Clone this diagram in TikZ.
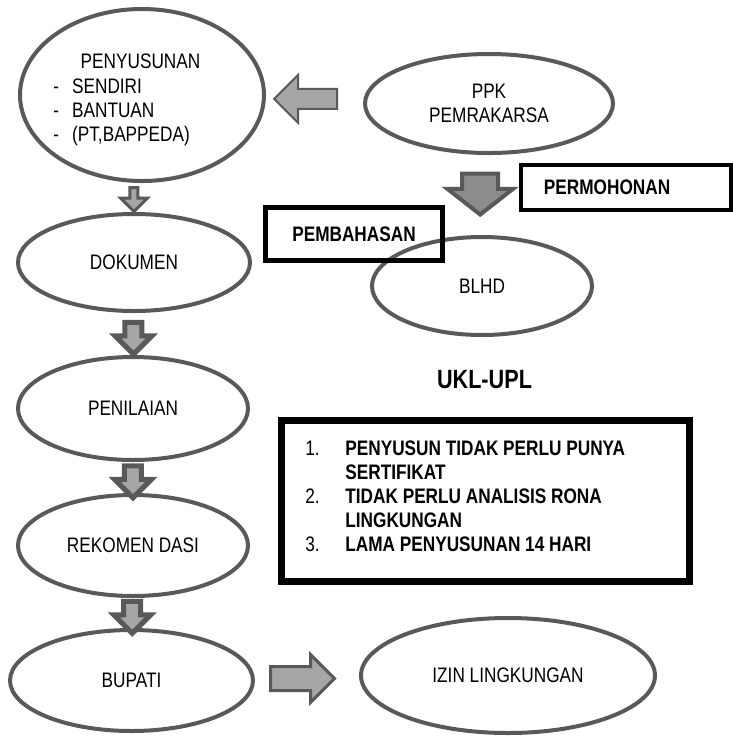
\documentclass[tikz,border=0pt]{standalone}
\usepackage{fontspec}
\setmainfont[FakeStretch=0.82]{Liberation Sans}
\usepackage{array}
\usetikzlibrary{shapes.geometric}
\usetikzlibrary{shapes.arrows}
\usetikzlibrary{positioning}
\usetikzlibrary{calc}

\definecolor{rim}{HTML}{595959}
\definecolor{lightfill}{HTML}{A6A6A6}
\definecolor{darkfill}{HTML}{8C8C8C}

\tikzset{
    every node/.style={font=\fontsize{10.5}{12.1}\selectfont, inner sep=0pt},
    oval/.style={ellipse, draw=rim, line width=2pt, align=center},
    frame/.style={rectangle, draw=black, font=\bfseries\fontsize{10.5}{12.1}\selectfont},
    blockarrow/.style 2 args={single arrow, draw=rim, fill=lightfill, line width=1pt, inner xsep=0pt, inner ysep=#1, single arrow head extend=#2},
    colarrow/.style={blockarrow={3pt}{5pt}, line width=2.5pt, rotate=270, minimum height=16pt}
}

\begin{document}
\begin{tikzpicture}[x=0.5pt, y=-0.5pt]
    \useasboundingbox (0, 0) rectangle (733, 736);

    \draw (142, 95) node[oval, minimum width=122pt, minimum height=86pt] (peny) {};
    \draw (140.5, 68) node[anchor=base] (penyhead) {PENYUSUNAN};
    \draw (53, 93) node[anchor=base west] (penylist) {\begin{tabular}[t]{@{}l@{\hspace{6.5pt}}l@{}}
        - & SENDIRI\\
        - & BANTUAN\\
        - & (PT,BAPPEDA)
    \end{tabular}};

    \draw (489, 103.5) node[oval, minimum width=124pt, minimum height=49.5pt] (ppk) {PPK\\PEMRAKARSA};
    \draw (134, 262.5) node[oval, minimum width=116pt, minimum height=48.5pt] (dok) {DOKUMEN};
    \draw (482, 286) node[oval, minimum width=110pt, minimum height=49pt] (blhd) {BLHD};
    \draw (133, 408.5) node[oval, minimum width=115pt, minimum height=51.5pt] (nil) {PENILAIAN};
    \draw (133, 545.5) node[oval, minimum width=115pt, minimum height=50.5pt] (rek) {REKOMEN DASI};
    \draw (131.5, 680.5) node[oval, minimum width=121.5pt, minimum height=50.5pt] (bup) {BUPATI};
    \draw (508, 675.5) node[oval, minimum width=147pt, minimum height=57.5pt] (izin) {IZIN LINGKUNGAN};

    \draw (354, 234) node[frame, line width=2.5pt, minimum width=88.5pt, minimum height=26.5pt] (pemb) {PEMBAHASAN};
    \draw (626, 187.5) node[frame, line width=2pt, minimum width=105pt, minimum height=22.5pt, text width=82pt, inner xsep=11.5pt, align=left] (perm) {PERMOHONAN};
    \draw (484.5, 380) node[font=\bfseries\fontsize{13.2}{15}\selectfont] (ukl) {UKL-UPL};

    \draw (485.5, 501) node[frame, line width=3.5pt, minimum width=204pt, minimum height=80.5pt] (ket) {};
    \draw (305, 455) node[anchor=base west] (kettext) {\begin{tabular}[t]{@{}p{20pt}@{}>{\bfseries}l@{}}
        1. & PENYUSUN TIDAK PERLU PUNYA\\
           & SERTIFIKAT\\
        2. & TIDAK PERLU ANALISIS RONA\\
           & LINGKUNGAN\\
        3. & LAMA PENYUSUNAN 14 HARI
    \end{tabular}};

    \draw ($(ppk.west)!0.54!(peny.east)$) node[blockarrow={4.5pt}{7pt}, rotate=180, minimum height=31.5pt] (topeny) {};
    \draw ($(ppk.south)!0.4!(blhd.north)$) node[blockarrow={8pt}{7.5pt}, xshift=-3pt, fill=darkfill, line width=2pt, single arrow tip angle=104, rotate=270, minimum height=20.5pt] (toblhd) {};
    \draw ($(peny.south -| dok.north)!0.5!(dok.north)$) node[blockarrow={1.25pt}{4.75pt}, line width=1.5pt, rotate=270, minimum height=12pt] (todok) {};
    \foreach \from/\to in {dok/nil, nil/rek, rek/bup}{
        \draw ($(\from.south)!0.5!(\to.north)$) node[colarrow] (to\to) {};
    }
    \draw ($(bup.east)!0.4!(izin.west)$) node[blockarrow={5.25pt}{6pt}, line width=1.5pt, minimum height=32pt] (toizin) {};
\end{tikzpicture}
\end{document}
